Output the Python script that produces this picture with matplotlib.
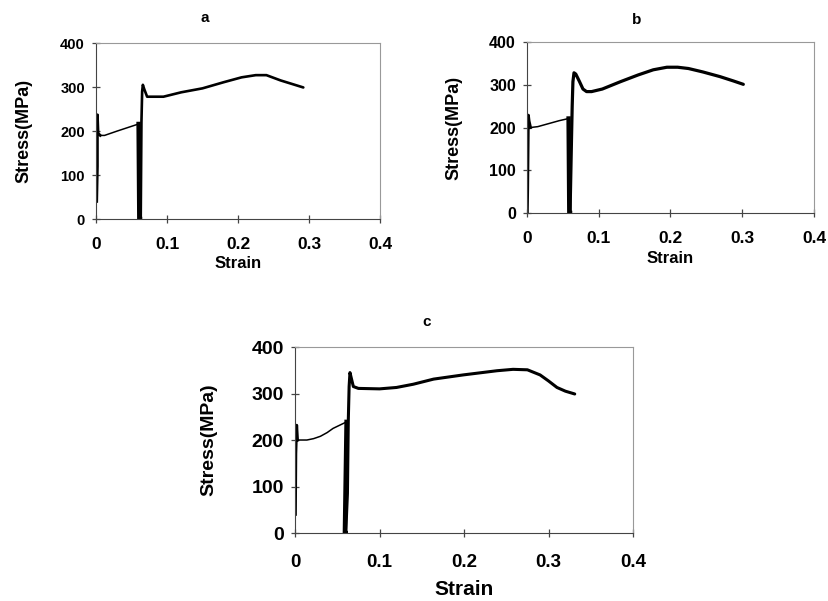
import matplotlib
matplotlib.use('Agg')
import matplotlib.pyplot as plt

plt.rcParams['font.family'] = ['Liberation Sans', 'DejaVu Sans']
plt.rcParams['font.weight'] = 'bold'

# ---- data ----
# a
a_spike_x = [0.001, 0.002, 0.002, 0.003, 0.006]
a_spike_y = [40, 120, 237, 195, 190]
a_luders_x = [0.006, 0.012, 0.030, 0.045, 0.060]
a_luders_y = [190, 190, 200, 208, 216]
a_drop_x = [0.060, 0.061, 0.062]
a_drop_y = [216, 0, 0]
a_main_x = [0.063, 0.064, 0.065, 0.066, 0.068, 0.072, 0.095, 0.120, 0.150, 0.180, 0.205, 0.225, 0.240, 0.260, 0.292]
a_main_y = [0, 220, 290, 305, 295, 278, 278, 288, 297, 311, 322, 327, 327, 315, 299]

# b
b_spike_x = [0.0005, 0.001, 0.002, 0.003, 0.005]
b_spike_y = [0, 55, 229, 215, 200]
b_luders_x = [0.005, 0.015, 0.030, 0.045, 0.058]
b_luders_y = [200, 202, 209, 216, 221]
b_drop_x = [0.058, 0.059, 0.060]
b_drop_y = [221, 0, 0]
b_main_x = [0.060, 0.062, 0.063, 0.064, 0.0655, 0.068, 0.073, 0.078, 0.083, 0.090, 0.105, 0.130, 0.155, 0.176, 0.195, 0.210, 0.225, 0.245, 0.269, 0.2875, 0.3015]
b_main_y = [0, 170, 250, 307, 328, 325, 308, 290, 284, 284, 290, 307, 323, 335, 341, 341, 338, 330, 319, 309, 301]

# c
c_spike_x = [0.0005, 0.001, 0.002, 0.003]
c_spike_y = [40, 171, 232, 200]
c_luders_x = [0.003, 0.014, 0.022, 0.030, 0.038, 0.045, 0.053, 0.061]
c_luders_y = [200, 200, 203, 208, 216, 225, 232, 239]
c_drop_x = [0.061, 0.059, 0.060]
c_drop_y = [239, 0, 0]
c_main_x = [0.060, 0.062, 0.063, 0.064, 0.065, 0.067, 0.069, 0.075, 0.100, 0.120, 0.140, 0.164, 0.199, 0.239, 0.258, 0.275, 0.290, 0.300, 0.310, 0.320, 0.331]
c_main_y = [0, 85, 240, 315, 345, 330, 315, 311, 310, 313, 320, 331, 340, 349, 352, 351, 340, 327, 313, 305, 299]

xticks = [0, 0.1, 0.2, 0.3, 0.4]
xticklabels = ['0', '0.1', '0.2', '0.3', '0.4']
yticks = [0, 100, 200, 300, 400]

fig = plt.figure(figsize=(8.29, 6.01), dpi=100)


def panel(rect, title, title_x, title_y, data, ytick_size, xtick_size, ylab_size, xlab_size,
          ylab_x, xlab_y, xpad, main_lw):
    ax = fig.add_axes(rect)
    sx, sy, lx, ly, dx, dy, mx, my = data
    ax.plot(sx, sy, color='black', lw=2.0, solid_joinstyle='round')
    ax.plot(lx, ly, color='black', lw=1.1)
    ax.plot(dx, dy, color='black', lw=3.2)
    ax.plot(mx, my, color='black', lw=main_lw, solid_joinstyle='round', solid_capstyle='round')
    ax.set_xlim(0, 0.4)
    ax.set_ylim(0, 400)
    ax.set_xticks(xticks)
    ax.set_xticklabels(xticklabels)
    ax.set_yticks(yticks)
    for s in ['top', 'right']:
        ax.spines[s].set_color('#999999')
    for s in ['left', 'bottom']:
        ax.spines[s].set_color('#444444')
    ax.tick_params(axis='both', direction='inout', length=6, width=0.9, color='#444444')
    ax.tick_params(axis='y', labelsize=ytick_size, pad=5)
    ax.tick_params(axis='x', labelsize=xtick_size, pad=xpad)
    for t in ax.get_xticklabels() + ax.get_yticklabels():
        t.set_fontweight('bold')
    ax.set_ylabel('Stress(MPa)', fontsize=ylab_size, fontweight='bold')
    ax.yaxis.set_label_coords(ylab_x, 0.5)
    ax.set_xlabel('Strain', fontsize=xlab_size, fontweight='bold')
    ax.xaxis.set_label_coords(0.5, xlab_y)
    fig.text(title_x, title_y, title, fontsize=11, fontweight='bold', ha='center', va='center')
    return ax


panel([0.1158, 0.6356, 0.3426, 0.2928], 'a', 205 / 829, 1 - 18 / 601,
      (a_spike_x, a_spike_y, a_luders_x, a_luders_y, a_drop_x, a_drop_y, a_main_x, a_main_y),
      10.5, 12.5, 13, 12, -0.225, -0.21, 10, 1.9)
panel([0.6357, 0.6456, 0.3462, 0.2845], 'b', 637 / 829, 1 - 20 / 601,
      (b_spike_x, b_spike_y, b_luders_x, b_luders_y, b_drop_x, b_drop_y, b_main_x, b_main_y),
      11.5, 12.5, 13, 12, -0.226, -0.22, 10, 2.3)
panel([0.3559, 0.1131, 0.4077, 0.3095], 'c', 427 / 829, 1 - 322 / 601,
      (c_spike_x, c_spike_y, c_luders_x, c_luders_y, c_drop_x, c_drop_y, c_main_x, c_main_y),
      14, 13.5, 14, 15, -0.23, -0.255, 12, 2.2)

fig.savefig('out.png', dpi=100)
